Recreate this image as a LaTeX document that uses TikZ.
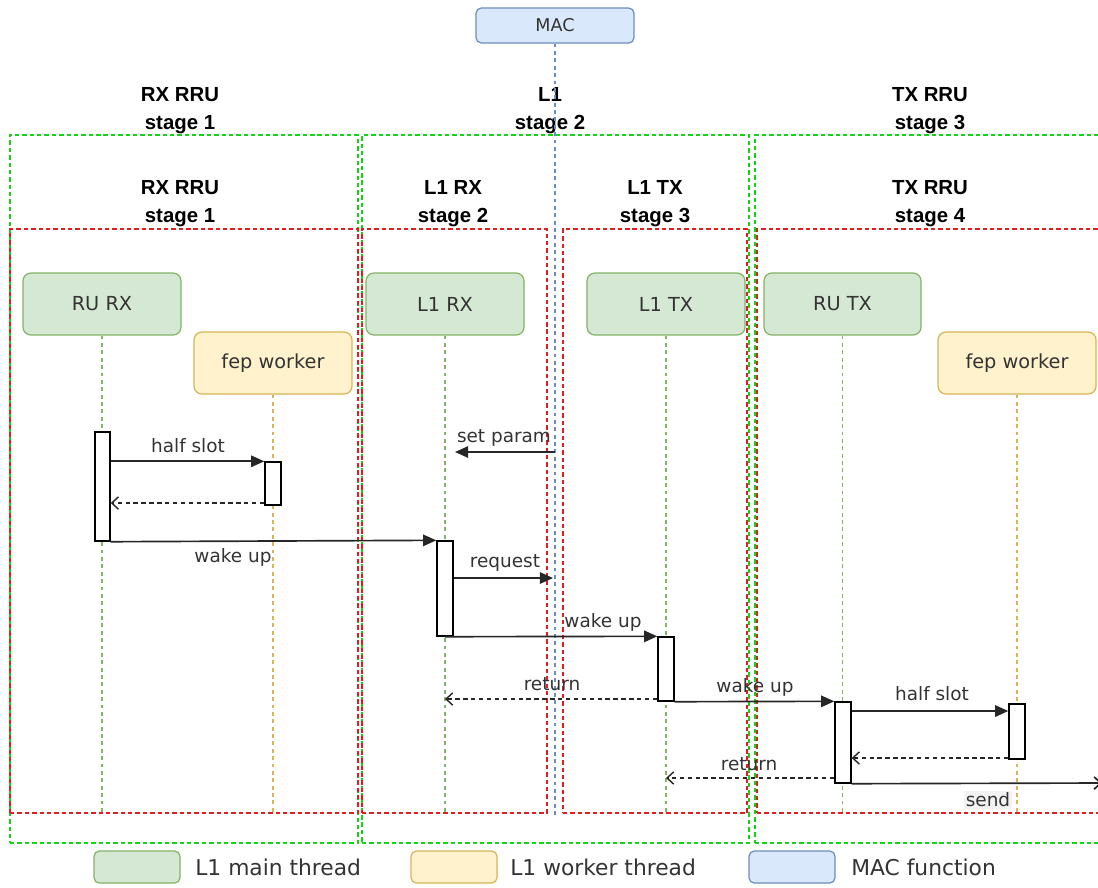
\documentclass[tikz,border=0pt]{standalone}
\usepackage{fontspec}
\setmainfont{DejaVu Sans}
\newfontfamily\titlefont{Liberation Sans}
\usetikzlibrary{arrows.meta,fit}
\definecolor{gfill}{HTML}{D5E8D4}
\definecolor{gdraw}{HTML}{82B366}
\definecolor{yfill}{HTML}{FFF2CC}
\definecolor{ydraw}{HTML}{D6B656}
\definecolor{bfill}{HTML}{DAE8FC}
\definecolor{bdraw}{HTML}{6C8EBF}
\definecolor{txt}{HTML}{333333}
\definecolor{cgreen}{RGB}{20,210,20}
\definecolor{cred}{RGB}{225,30,30}
\tikzset{
  box/.style={rounded corners=4.5pt, line width=0.7pt, inner sep=0pt, text=txt, font=\fontsize{11}{13}\selectfont},
  mainbox/.style={box, fill=gfill, draw=gdraw},
  workbox/.style={box, fill=yfill, draw=ydraw},
  macbox/.style={box, fill=bfill, draw=bdraw, rounded corners=3pt, font=\fontsize{10}{12}\selectfont},
  gframe/.style={draw=cgreen, line width=0.8pt, dash pattern=on 2.5pt off 1.7pt, inner sep=0pt},
  rframe/.style={draw=cred, line width=0.8pt, dash pattern=on 2.5pt off 1.7pt, inner sep=0pt},
  title/.style={align=center, font=\titlefont\bfseries\fontsize{11.6}{15.9}\selectfont, text=black},
  life/.style={line width=0.7pt, dash pattern=on 2.2pt off 2pt},
  act/.style={draw=black, fill=white, line width=0.8pt, inner sep=0pt},
  msg/.style={draw=black!85, line width=0.95pt, -{Triangle[length=7.5pt,width=6.5pt]}},
  ret/.style={draw=black!85, line width=0.8pt, dash pattern=on 2.5pt off 2pt, -{Straight Barb[length=3.8pt,width=7pt]}},
  lbl/.style={text=txt, font=\fontsize{10.5}{12}\selectfont, inner sep=1pt},
  leg/.style={text=txt, font=\fontsize{12.4}{14}\selectfont, anchor=west, inner sep=0pt},
}
\begin{document}
\begin{tikzpicture}[x=0.02cm, y=-0.02cm]
\useasboundingbox (0,0) rectangle (1098,887);
\clip (0,0) rectangle (1098,887);
\fill[white] (0,0) rectangle (1098,887);

% frames
\node[gframe, fit={(10,135)(358,843)}] (g1) {};
\node[gframe, fit={(362,135)(749,843)}] (g2) {};
\node[gframe, fit={(755,135)(1115,843)}] (g3) {};
\node[rframe, fit={(10,229)(358,813)}] (r1) {};
\node[rframe, fit={(362,229)(547,813)}] (r2) {};
\node[rframe, fit={(563,229)(747,813)}] (r3) {};
\node[rframe, fit={(757,229)(1115,813)}] (r4) {};

% titles
\node[title] (t1) at (180,111) {RX RRU\\stage 1};
\node[title] (t2) at (550,111) {L1\\stage 2};
\node[title] (t3) at (930,111) {TX RRU\\stage 3};
\node[title] (t4) at (180,204) {RX RRU\\stage 1};
\node[title] (t5) at (453,204) {L1 RX\\stage 2};
\node[title] (t6) at (655,204) {L1 TX\\stage 3};
\node[title] (t7) at (930,204) {TX RRU\\stage 4};

% participants
\node[macbox, fit={(476,8)(634,43)}] (mac) {};
\node[text=txt, font=\fontsize{10}{12}\selectfont] (macl) at (mac.center) {MAC};
\node[mainbox, fit={(23,273)(181,335)}] (rurx) {};
\node[text=txt, font=\fontsize{11}{13}\selectfont] (rurxl) at (rurx.center) {RU RX};
\node[workbox, fit={(194,332)(352,394)}] (fep1) {};
\node[text=txt, font=\fontsize{11}{13}\selectfont] (fep1l) at (fep1.center) {fep worker};
\node[mainbox, fit={(366,273)(524,335)}] (l1rx) {};
\node[text=txt, font=\fontsize{11}{13}\selectfont] (l1rxl) at (l1rx.center) {L1 RX};
\node[mainbox, fit={(587,273)(745,335)}] (l1tx) {};
\node[text=txt, font=\fontsize{11}{13}\selectfont] (l1txl) at (l1tx.center) {L1 TX};
\node[mainbox, fit={(764,273)(921,335)}] (rutx) {};
\node[text=txt, font=\fontsize{11}{13}\selectfont] (rutxl) at (rutx.center) {RU TX};
\node[workbox, fit={(938,332)(1096,394)}] (fep2) {};
\node[text=txt, font=\fontsize{11}{13}\selectfont] (fep2l) at (fep2.center) {fep worker};

% lifeline ends
\coordinate (macend) at (555,815);
\coordinate (rurxend) at (102,813);
\coordinate (fep1end) at (273,813);
\coordinate (l1rxend) at (445,813);
\coordinate (l1txend) at (666,813);
\coordinate (rutxend) at (842.5,813);
\coordinate (fep2end) at (1017,813);

\draw[life, draw=bdraw] (mac.south) -- (mac.south |- macend);
\draw[life, draw=gdraw] (rurx.south) -- (rurxend);
\draw[life, draw=ydraw] (fep1.south) -- (fep1end);
\draw[life, draw=gdraw] (l1rx.south) -- (l1rxend);
\draw[life, draw=gdraw] (l1tx.south) -- (l1txend);
\draw[life, draw=gdraw] (rutx.south) -- (rutxend);
\draw[life, draw=ydraw] (fep2.south) -- (fep2end);

% activations
\node[act, fit={(95,432)(110,541)}] (a1) {};
\node[act, fit={(265,462)(281,505)}] (f1) {};
\node[act, fit={(437,541)(453,636)}] (a2) {};
\node[act, fit={(658,637)(674,701)}] (a3) {};
\node[act, fit={(835,702)(851,783)}] (a4) {};
\node[act, fit={(1009,704)(1025,759)}] (f2) {};

% message end points
\coordinate (sp1) at (455,452);
\coordinate (rq1) at (553,578);
\coordinate (sendend) at (1102,783);

% messages
\draw[msg] (a1.east |- f1.north) -- (f1.north west);
\node[lbl] (m1) at (188,446) {half slot};
\draw[ret] (f1.west |- 0,503) -- (a1.east |- 0,503);
\draw[msg] (a1.south east) -- (a2.north west);
\node[lbl] (m3) at (233,557) {wake up};
\draw[msg] (mac.south |- sp1) -- (sp1);
\node[lbl] (m4) at (504,438) {set param};
\draw[msg] (a2.east |- rq1) -- (rq1);
\node[lbl] (m5) at (505,563) {request};
\draw[msg] (a2.south) -- (a3.north west);
\node[lbl] (m6) at (603,622) {wake up};
\draw[ret] (a3.west |- 0,699) -- (l1rx.south |- 0,699);
\node[lbl] (m7) at (552,684) {return};
\draw[msg] (a3.south east) -- (a4.north west);
\node[lbl] (m8) at (755,687) {wake up};
\draw[msg] (a4.east |- 0,711) -- (f2.west |- 0,711);
\node[lbl] (m9) at (932,694) {half slot};
\draw[ret] (f2.west |- 0,758) -- (a4.east |- 0,758);
\draw[ret] (a4.west |- 0,778) -- (l1tx.south |- 0,778);
\node[lbl] (m11) at (749,764) {return};
\draw[draw=black!85, line width=0.95pt, -{Straight Barb[length=3.8pt,width=7pt]}] (a4.south east) -- (sendend);
\node[lbl, fill=black!5] (m12) at (988,800) {send};

% legend
\node[box, fill=gfill, draw=gdraw, rounded corners=3pt, fit={(94,851)(180,883)}] (lg1) {};
\node[leg] (lg1t) at (195,867) {L1 main thread};
\node[box, fill=yfill, draw=ydraw, rounded corners=3pt, fit={(411,851)(497,883)}] (lg2) {};
\node[leg] (lg2t) at (510,867) {L1 worker thread};
\node[box, fill=bfill, draw=bdraw, rounded corners=3pt, fit={(749,851)(835,883)}] (lg3) {};
\node[leg] (lg3t) at (851,867) {MAC function};
\end{tikzpicture}
\end{document}
